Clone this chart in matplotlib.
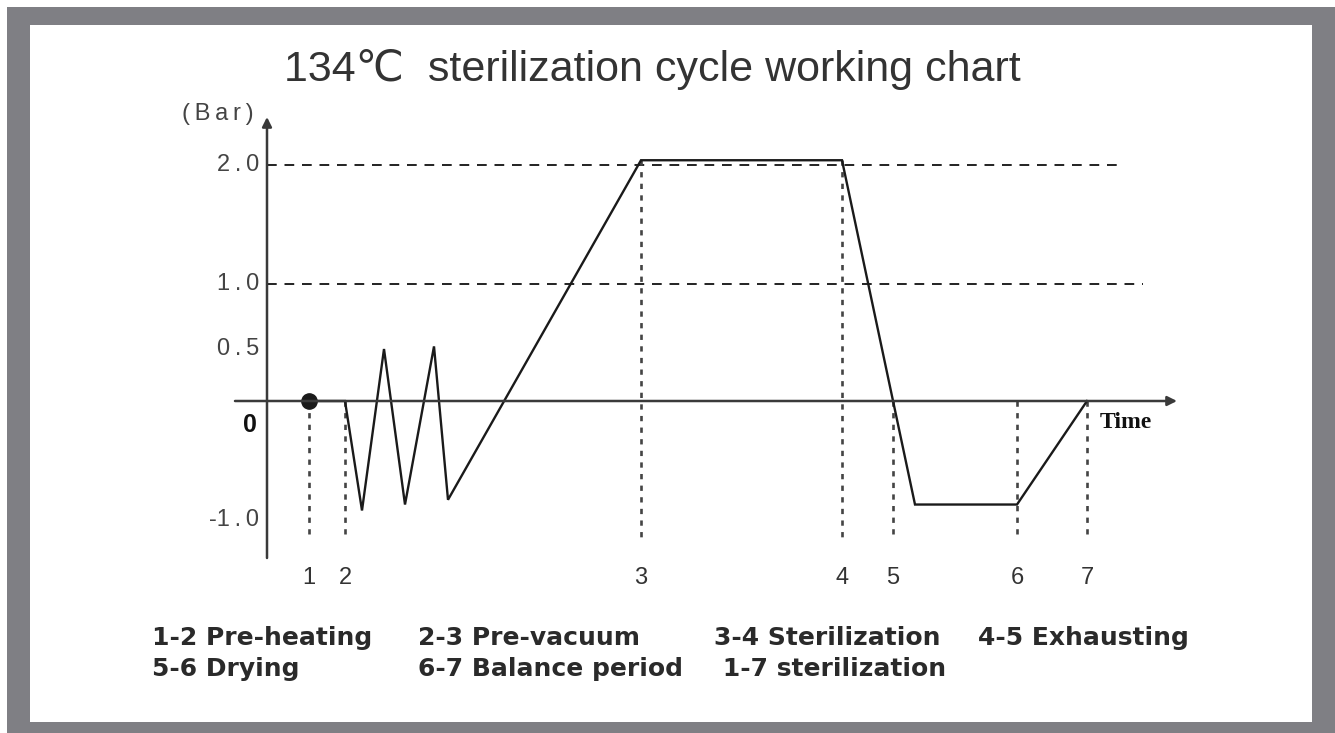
import numpy as np
import matplotlib
matplotlib.use("Agg")
import matplotlib.pyplot as plt
from matplotlib.patches import Rectangle

# ---------------- data ----------------
title = "134\u2103  sterilization cycle working chart"
point_labels = ["1", "2", "3", "4", "5", "6", "7"]
point_times = [4.2, 7.8, 37.4, 57.5, 62.6, 75.0, 82.0]
point_tops = [0.0, 0.0, 2.04, 2.04, 0.0, 0.0, 0.0]

curve_times = [4.2, 7.8, 9.5, 11.7, 13.8, 16.7, 18.1, 37.4, 57.5, 64.8, 75.0, 82.0]
curve_pressure = [0.0, 0.0, -0.92, 0.5, -0.87, 0.52, -0.83, 2.04, 2.04, -0.87, -0.87, 0.0]

ytick_values = [2.0, 1.0, 0.5, -1.0]
ytick_labels = ["2.0", "1.0", "0.5", "-1.0"]
ref_levels = [2.0, 1.0]
ref_ends = [85.3, 87.6]

phase_row1 = ["1-2 Pre-heating", "2-3 Pre-vacuum", "3-4 Sterilization", "4-5 Exhausting"]
phase_row2 = ["5-6 Drying", "6-7 Balance period", " 1-7 sterilization"]

# schematic (non-uniform) pressure scale of the drawing
p_knots = [-4.0, -1.0, 0.0, 0.5, 1.0, 2.0, 4.0]
s_knots = [-476.0, -119.0, 0.0, 52.0, 117.0, 236.0, 474.0]


def fwd(p):
    return np.interp(p, p_knots, s_knots)


def inv(s):
    return np.interp(s, s_knots, p_knots)


W, H = 1335, 733
fig = plt.figure(figsize=(W / 100, H / 100), dpi=100)
fig.patch.set_facecolor("white")

# grey frame
fig.patches.append(Rectangle((7 / W, 0), 1, (H - 7) / H, transform=fig.transFigure,
                             facecolor="#7f7f84", edgecolor="none", zorder=0))
fig.patches.append(Rectangle((30 / W, (H - 722) / H), 1282 / W, 697 / H, transform=fig.transFigure,
                             facecolor="white", edgecolor="none", zorder=1))

ax = fig.add_axes([0, 0, 1, 1])
ax.set_zorder(5)
ax.set_yscale("function", functions=(fwd, inv))
x0_px, px_per_t, y0_px = 267.0, 10.0, 401.0
ax.set_xlim((0 - x0_px) / px_per_t, (W - x0_px) / px_per_t)
ax.set_ylim(inv(y0_px - H), inv(y0_px))
ax.axis("off")
ax.patch.set_alpha(0)


def p_at_px(py):
    return float(inv(y0_px - py))


def t_at_px(px):
    return (px - x0_px) / px_per_t


def spaced(s):
    # letter-spacing like the drawing, minus sign kept tight
    sign = "-" if s.startswith("-") else ""
    return sign + "\u2009".join(s.lstrip("-"))


axis_col = "#3a3a3a"
# x axis with arrow
ax.annotate("", xy=(t_at_px(1177), 0), xytext=(t_at_px(235), 0),
            arrowprops=dict(arrowstyle="-|>", lw=1.8, color=axis_col, mutation_scale=14,
                            shrinkA=0, shrinkB=0))
# y axis with arrow
ax.annotate("", xy=(0, p_at_px(117)), xytext=(0, p_at_px(558)),
            arrowprops=dict(arrowstyle="-|>", lw=1.8, color=axis_col, mutation_scale=14,
                            shrinkA=0, shrinkB=0))

# reference dashed levels
for lvl, end in zip(ref_levels, ref_ends):
    ax.plot([0, end], [lvl, lvl], color="#222222", lw=1.4, dashes=(5, 4))

# vertical dashed markers
vbottom = p_at_px(538)
for t, top in zip(point_times, point_tops):
    ax.plot([t, t], [top, vbottom], color="#444444", lw=1.9, dashes=(2.0, 2.4))

# main cycle curve
ax.plot(curve_times, curve_pressure, color="#1a1a1a", lw=1.7, solid_joinstyle="miter")
ax.plot([curve_times[0]], [curve_pressure[0]], "o", color="#1a1a1a", ms=11)

# y tick labels (letter-spaced as in the drawing)
tick_font = ["Liberation Sans", "DejaVu Sans"]
for v, lab in zip(ytick_values, ytick_labels):
    ax.text(t_at_px(259), v, spaced(lab), ha="right", va="center",
            fontsize=17, color="#444444", family=tick_font)
ax.text(t_at_px(257), p_at_px(425), "0", ha="right", va="center", fontsize=18,
        fontweight="bold", color="#111111", family=tick_font)
ax.text(t_at_px(218), p_at_px(114), "(\u2009B\u2009a\u2009r\u2009)", ha="center", va="center",
        fontsize=17, color="#444444", family=tick_font)
ax.text(t_at_px(1100), p_at_px(422), "Time", ha="left", va="center", fontsize=17,
        fontweight="bold", color="#111111", family=["Liberation Serif", "DejaVu Serif"])

# point number labels
for t, lab in zip(point_times, point_labels):
    ax.text(t, p_at_px(578), lab, ha="center", va="center", fontsize=17,
            color="#333333", family=tick_font)

# title
fig.text(652 / W, 1 - 69 / H, title, ha="center", va="center", fontsize=31,
         color="#333333", family=["Liberation Sans", "DejaVu Sans"])

# phase legend
col1_x = [152, 418, 714, 978]
col2_x = [152, 418, 714]
for x, s in zip(col1_x, phase_row1):
    fig.text(x / W, 1 - 638 / H, s, ha="left", va="center", fontsize=18,
             fontweight="bold", color="#2a2a2a", family=["DejaVu Sans"])
for x, s in zip(col2_x, phase_row2):
    fig.text(x / W, 1 - 669 / H, s, ha="left", va="center", fontsize=18,
             fontweight="bold", color="#2a2a2a", family=["DejaVu Sans"])

fig.savefig("out.png", dpi=100, facecolor=fig.get_facecolor())
